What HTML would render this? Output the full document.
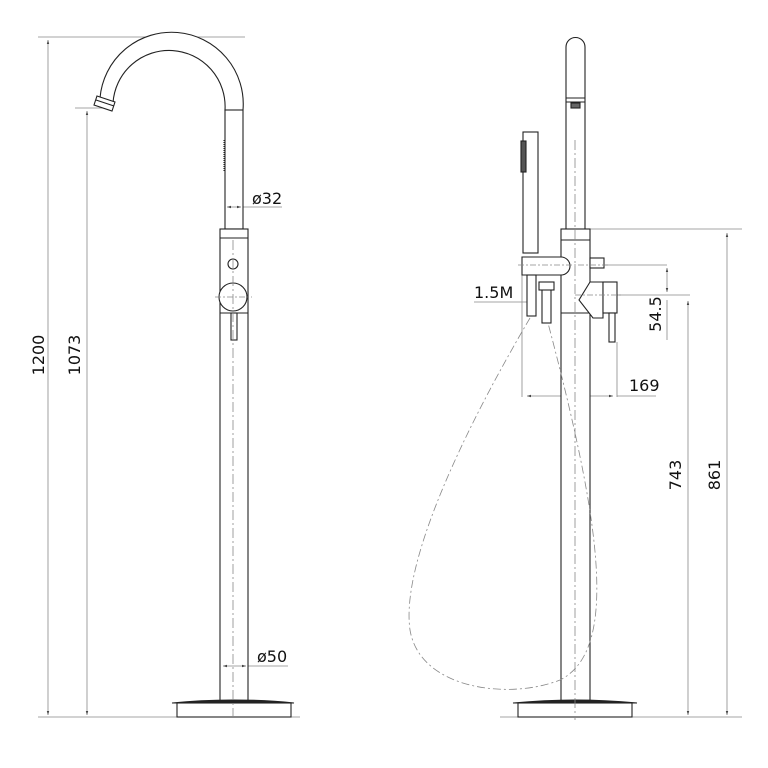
<!DOCTYPE html>
<html><head><style>html,body{margin:0;padding:0;background:#fff}svg{display:block}</style></head>
<body>
<svg width="768" height="768" viewBox="0 0 768 768" xmlns="http://www.w3.org/2000/svg" font-family="DejaVu Sans, sans-serif">
<defs>
<marker id="a" viewBox="0 0 10 10" refX="10" refY="5" markerWidth="5" markerHeight="5" orient="auto-start-reverse"><path d="M0,2 L10,5 L0,8z" fill="#444"/></marker>
</defs>
<g stroke="#888" stroke-width="0.8" fill="none">
<line x1="38" y1="37" x2="245" y2="37"/>
<line x1="75" y1="108" x2="105" y2="108"/>
<line x1="48" y1="40" x2="48" y2="715" marker-start="url(#a)" marker-end="url(#a)"/>
<line x1="87" y1="111" x2="87" y2="715" marker-start="url(#a)" marker-end="url(#a)"/>
<line x1="38" y1="717" x2="300" y2="717"/>
<line x1="243" y1="207" x2="282" y2="207"/>
<line x1="248" y1="666" x2="288" y2="666"/>
<line x1="590" y1="229" x2="742" y2="229"/>
<line x1="727" y1="233" x2="727" y2="715" marker-start="url(#a)" marker-end="url(#a)"/>
<line x1="688" y1="301" x2="688" y2="715" marker-start="url(#a)" marker-end="url(#a)"/>
<line x1="500" y1="717" x2="742" y2="717"/>
<line x1="612" y1="295" x2="690" y2="295"/>
<line x1="600" y1="265" x2="667" y2="265"/>
<line x1="667" y1="268" x2="667" y2="292" marker-start="url(#a)" marker-end="url(#a)"/>
<line x1="667" y1="300" x2="667" y2="340"/>
<line x1="522" y1="275" x2="522" y2="397"/>
<line x1="617" y1="342" x2="617" y2="397"/>
<line x1="527" y1="396" x2="613" y2="396" marker-start="url(#a)" marker-end="url(#a)"/>
<line x1="617" y1="396" x2="656" y2="396"/>
<line x1="474" y1="302" x2="527" y2="302"/>
</g>
<g stroke="#222" stroke-width="1.1" fill="#fff">
<path d="M243,110 A71,71 0 0 0 100,98 L113,103 A53,53 0 0 1 225,110 Z"/>
<path d="M97,96 L115,102 L112,111 L94,105 Z"/>
<line x1="96" y1="100" x2="114" y2="106"/>
<rect x="225" y="110" width="18" height="119"/>
<line x1="224" y1="140" x2="224" y2="172" stroke-dasharray="1,1"/>
<rect x="220" y="229" width="28" height="472"/>
<line x1="220" y1="238" x2="248" y2="238"/>
<line x1="220" y1="313" x2="248" y2="313"/>
<circle cx="233" cy="264" r="5"/>
<circle cx="233" cy="297" r="14"/>
<rect x="231" y="313" width="6" height="27"/>
<path d="M172,703 Q200,700 233,700 Q266,700 294,703 Z" fill="#222"/>
<rect x="177" y="703" width="114" height="14"/>
<path d="M566,229 L566,47 A9.5,9.5 0 0 1 585,47 L585,229 Z"/>
<line x1="566" y1="98" x2="585" y2="98"/>
<line x1="566" y1="102" x2="585" y2="102"/>
<rect x="571" y="103" width="9" height="5" fill="#666"/>
<rect x="561" y="229" width="29" height="472"/>
<line x1="561" y1="240" x2="590" y2="240"/>
<line x1="561" y1="313" x2="590" y2="313"/>
<rect x="523" y="132" width="15" height="121"/>
<rect x="521" y="141" width="5" height="31" fill="#555"/>
<path d="M522,257 L561,257 A9,9 0 0 1 561,275 L522,275 Z"/>
<rect x="527" y="275" width="9" height="41"/>
<rect x="542" y="289" width="9" height="34"/>
<rect x="539" y="282" width="15" height="8"/>
<rect x="590" y="258" width="14" height="10"/>
<path d="M590,282 L603,282 L603,318 L593,318 L579,300 Z"/>
<rect x="603" y="282" width="14" height="31"/>
<rect x="609" y="313" width="6" height="29"/>
<path d="M513,703 Q545,700 575,700 Q605,700 637,703 Z" fill="#222"/>
<rect x="518" y="703" width="114" height="14"/>
</g>
<g stroke="#888" stroke-width="0.8" fill="none">
<line x1="227" y1="207" x2="241" y2="207" marker-start="url(#a)" marker-end="url(#a)"/>
<line x1="223" y1="666" x2="246" y2="666" marker-start="url(#a)" marker-end="url(#a)"/>
<line x1="233" y1="240" x2="233" y2="720" stroke-dasharray="10,3,2,3"/>
<line x1="575" y1="140" x2="575" y2="720" stroke-dasharray="10,3,2,3"/>
<line x1="215" y1="297" x2="252" y2="297" stroke-dasharray="6,2,2,2"/>
<line x1="518" y1="265" x2="610" y2="265" stroke-dasharray="6,2,2,2"/>
<line x1="575" y1="295" x2="622" y2="295" stroke-dasharray="6,2,2,2"/>
<path d="M530,318 C470,420 400,560 410,630 C420,690 510,700 560,680 C620,650 600,520 548,323" stroke-dasharray="8,3,2,3"/>
</g>
<g fill="#111" font-size="16">
<text x="252" y="204">ø32</text>
<text x="257" y="662">ø50</text>
<text x="474" y="298">1.5M</text>
<text x="629" y="391">169</text>
<text transform="translate(44,355) rotate(-90)" text-anchor="middle">1200</text>
<text transform="translate(80,355) rotate(-90)" text-anchor="middle">1073</text>
<text transform="translate(661,314) rotate(-90)" text-anchor="middle">54.5</text>
<text transform="translate(681,475) rotate(-90)" text-anchor="middle">743</text>
<text transform="translate(720,475) rotate(-90)" text-anchor="middle">861</text>
</g>
</svg>
</body></html>
